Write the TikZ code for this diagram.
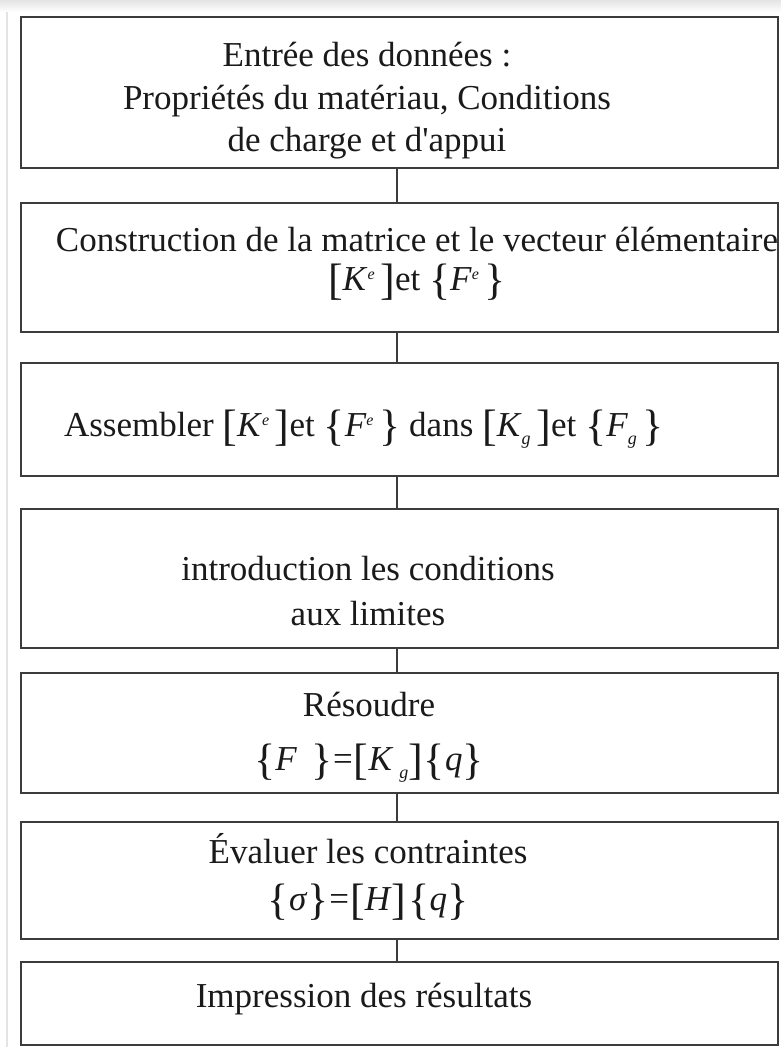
\documentclass[tikz,border=0pt]{standalone}
\usepackage{fontspec}
\setmainfont{Liberation Serif}
\definecolor{boxline}{HTML}{3C3C3C}
\definecolor{txt}{HTML}{1A1A1A}
\definecolor{shadow}{HTML}{E4E4E4}
\newcommand\bigdel[1]{\raisebox{-4pt}{\fontsize{44}{44}\selectfont #1}}
\newcommand\Lb{\bigdel{[}}
\newcommand\Rb{\bigdel{]}}
\newcommand\Lc{\bigdel{\{}}
\newcommand\Rc{\bigdel{\}}}
\newcommand\vsup[1]{\raisebox{11pt}{\fontsize{16}{16}\selectfont\itshape #1}}
\newcommand\vsub[1]{\raisebox{-8pt}{\fontsize{18}{18}\selectfont\itshape #1}}
\begin{document}
\begin{tikzpicture}[x=1pt,y=-1pt,
  stepbox/.style={draw=boxline, line width=2.2pt, rectangle, minimum width=757pt, inner sep=0pt},
  label/.style={text=txt, font=\fontsize{35}{42.5}\selectfont, align=center, inner sep=0pt},
  conn/.style={draw=boxline, line width=1.6pt}]
\useasboundingbox (0,0) rectangle (781,1047);
\fill[white] (0,0) rectangle (781,1047);
\shade[top color=shadow, bottom color=white] (0,0) rectangle (781,12);
\draw[shadow, line width=1.2pt] (7,12) -- (7,1047);
% boxes
\node[stepbox, minimum height=151pt] (b1) at (399.5,92.5) {};
\node[stepbox, minimum height=129pt] (b2) at (399.5,267.5) {};
\node[stepbox, minimum height=113pt] (b3) at (399.5,419.5) {};
\node[stepbox, minimum height=139pt] (b4) at (399.5,578.5) {};
\node[stepbox, minimum height=120pt] (b5) at (399.5,733) {};
\node[stepbox, minimum height=117pt] (b6) at (399.5,880.5) {};
\node[stepbox, minimum height=83pt] (b7) at (399.5,1003.5) {};
% texts
\node[label] (t1) at (367,101) {Entrée des données :\\Propriétés du matériau, Conditions\\de charge et d\textquotesingle appui};
\node[label] (t2) at (417,264) {Construction de la matrice et le vecteur élémentaire\\[-3pt]\Lb\textit{K}\vsup{e}\,\Rb et \Lc\textit{F}\vsup{e}\,\Rc};
\node[label] (t3) at (364,429) {Assembler \Lb\textit{K}\vsup{e}\,\Rb et \Lc\textit{F}\vsup{e}\,\Rc\ dans \Lb\textit{K}\vsub{g}\,\Rb et \Lc\textit{F}\vsub{g}\,\Rc};
\node[label] (t4) at (368,591) {introduction les conditions\\[3pt]aux limites};
\node[label] (t5) at (369,737) {Résoudre\\[12pt]\Lc\textit{F}\hspace{14pt}\Rc\hspace{1pt}=\hspace{1pt}\Lb\textit{K}\,\vsub{g}\Rb\hspace{1pt}\Lc\textit{q}\Rc};
\node[label] (t6) at (368,877) {Évaluer les contraintes\\[4pt]\Lc\textit{σ}\Rc\hspace{1pt}=\hspace{1pt}\Lb\textit{H}\Rb\hspace{2pt}\Lc\textit{q}\Rc};
\node[label] (t7) at (364,999) {Impression des résultats};
% connectors
\foreach \a/\b in {b1/b2,b2/b3,b3/b4,b4/b5,b5/b6,b6/b7}
  \draw[conn] ([xshift=-2.5pt]\a.south) -- ([xshift=-2.5pt]\b.north);
\end{tikzpicture}
\end{document}
